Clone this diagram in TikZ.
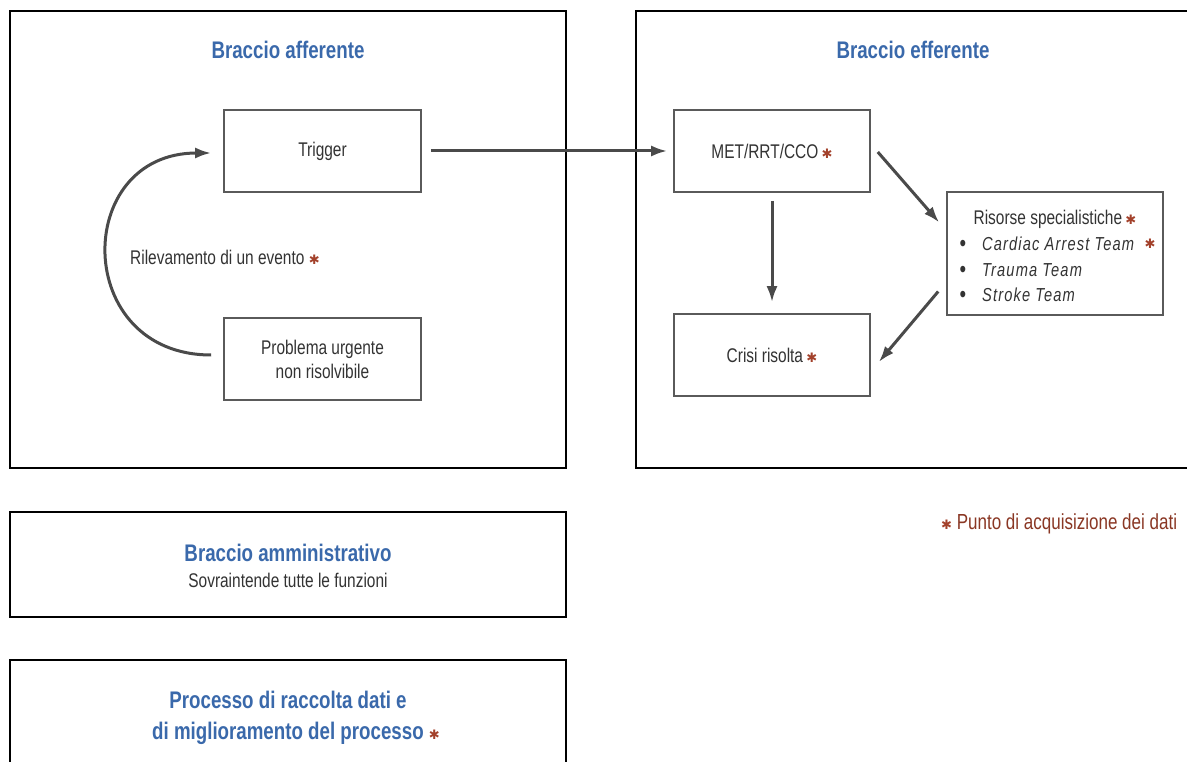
\documentclass[tikz,border=0pt]{standalone}
\usepackage{fontspec}
\setmainfont{Liberation Sans}[FakeStretch=0.78]
\newfontfamily\symfont{DejaVu Sans}
\usetikzlibrary{arrows.meta,calc}
\definecolor{tblue}{HTML}{3A69AB}
\definecolor{tred}{HTML}{A3412B}
\definecolor{tgray}{HTML}{333333}
\definecolor{agray}{HTML}{4A4A4A}
\definecolor{bgray}{HTML}{5A5A5A}
\newcommand{\rast}{{\color{tred}\symfont\fontsize{13}{14}\selectfont ✱}}
\begin{document}
\begin{tikzpicture}[x=1pt,y=-1pt,
  every node/.style={font=\fontsize{19.8}{24}\selectfont, text=tgray},
  bigbox/.style={draw=black, line width=2.6pt, inner sep=0pt},
  inbox/.style={draw=bgray, line width=1.6pt, minimum width=197pt, minimum height=82pt, inner sep=0pt, align=center},
  titletext/.style={font=\fontsize{24}{31}\selectfont\bfseries, text=tblue, align=center},
  conn/.style={draw=agray, line width=3pt, -{Latex[length=16pt,width=11pt]}},
  teamtext/.style={font=\fontsize{18.8}{20}\selectfont\itshape\addfontfeatures{LetterSpace=6}, anchor=west, inner sep=0pt},
  bul/.style={inner sep=0pt, font=\fontsize{24}{24}\selectfont}
]
\useasboundingbox (0,0) rectangle (1187,762);
\fill[white] (0,0) rectangle (1187,762);
% containers
\node[bigbox, minimum width=556pt, minimum height=457pt] (aff) at (288,239.5) {};
\node[bigbox, minimum width=566pt, minimum height=457pt] (eff) at (919,239.5) {};
\node[bigbox, minimum width=556pt, minimum height=105pt] (adm) at (288,564.5) {};
\node[bigbox, minimum width=556pt, minimum height=118pt] (proc) at (288,719) {};
% titles
\node[titletext] (afft) at (288,50) {Braccio afferente};
\node[titletext] (efft) at (913,50) {Braccio efferente};
\node[titletext] (admt) at (288,553) {Braccio amministrativo};
\node (adms) at (288,580) {Sovraintende tutte le funzioni};
\node[titletext] (proct1) at (288,700) {Processo di raccolta dati e};
\node[titletext] (proct2) at (296,733) {di miglioramento del processo \rast};
% afferent
\node[inbox] (trig) at (322.5,151) {Trigger};
\node[inbox] (prob) at (322.5,359) {Problema urgente\\non risolvibile};
\node[anchor=west, inner sep=0pt] (ril) at (130,257) {Rilevamento di un evento \rast};
\draw[conn] ($(prob.west)+(-12,-4)$) .. controls (72,355) and (72,153) .. ($(trig.west)+(-12,2)$);
% efferent
\node[inbox, minimum width=196pt] (met) at (772,151) {MET/RRT/CCO\,\rast};
\node[inbox, minimum width=196pt] (cri) at (772,355) {Crisi risolta\,\rast};
\node[draw=bgray, line width=1.6pt, minimum width=216pt, minimum height=123pt, inner sep=0pt] (ris) at (1055,253.5) {};
\node[inner sep=0pt] (rist) at (1055,219) {Risorse specialistiche\,\rast};
\node[bul] (b1) at (963,245.5) {\textbullet};
\node[bul] (b2) at (963,271.5) {\textbullet};
\node[bul] (b3) at (963,296.5) {\textbullet};
\node[teamtext] (t1) at (982,244) {Cardiac Arrest Team};
\node[inner sep=0pt] (t1a) at (1150,244) {\rast};
\node[teamtext] (t2) at (982,270) {Trauma Team};
\node[teamtext] (t3) at (982,295) {Stroke Team};
% connectors
\draw[conn] ($(trig.east)+(9,0)$) -- ($(met.west)+(-6,0)$);
\draw[conn] ($(met.south)+(0,8)$) -- ($(cri.north)+(0,-11)$);
\draw[conn] ($(met.east)+(7,1)$) -- ($(ris.west)+(-7,-31)$);
\draw[conn] ($(ris.west)+(-8,38)$) -- ($(cri.east)+(8,7)$);
% legend
\node[anchor=west, inner sep=0pt, text=tred!85!black, font=\fontsize{21.8}{24}\selectfont] (leg) at (941,524) {\rast\ Punto di acquisizione dei dati};
\end{tikzpicture}
\end{document}
